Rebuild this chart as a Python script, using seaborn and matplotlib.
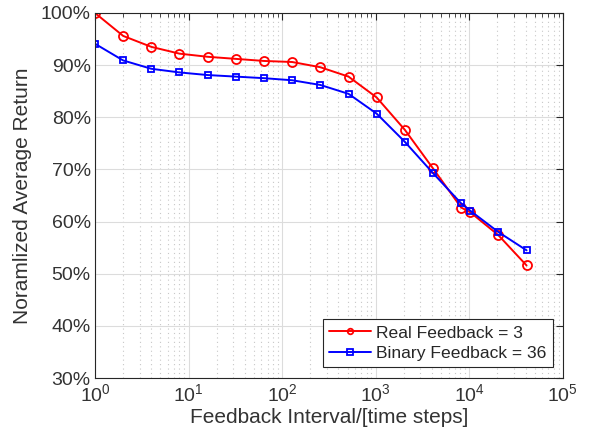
import numpy as np
import pandas as pd
import matplotlib
matplotlib.use("Agg")
import matplotlib.pyplot as plt
import seaborn as sns
from matplotlib.ticker import LogLocator, FuncFormatter, NullFormatter

# feedback interval in time steps
intervals = [1, 2, 4, 8, 16, 32, 64, 128, 256, 512, 1024, 2048, 4096, 8192, 10240, 20480, 40960]
# normalized average return (%)
real_fb = [100.0, 95.6, 93.5, 92.2, 91.6, 91.2, 90.8, 90.6, 89.6, 87.8, 83.8, 77.6, 70.2, 62.7, 61.8, 57.4, 51.6]
binary_fb = [94.1, 90.9, 89.3, 88.6, 88.1, 87.8, 87.5, 87.1, 86.2, 84.5, 80.7, 75.3, 69.3, 63.5, 62.1, 58.0, 54.5]
series_names = ["Real Feedback = 3", "Binary Feedback = 36"]

df = pd.DataFrame({
    "interval": intervals * 2,
    "ret": real_fb + binary_fb,
    "series": [series_names[0]] * len(intervals) + [series_names[1]] * len(intervals),
})

sns.set_style("white")
plt.rcParams["font.family"] = ["Liberation Sans", "DejaVu Sans"]
plt.rcParams["mathtext.fontset"] = "custom"
plt.rcParams["mathtext.rm"] = "Liberation Sans"
plt.rcParams["mathtext.default"] = "regular"

fig = plt.figure(figsize=(5.9, 4.47), dpi=100)
ax = fig.add_axes([0.161, 0.154, 0.793, 0.817])

sns.lineplot(data=df[df.series == series_names[0]], x="interval", y="ret", ax=ax,
             color="#ff0000", marker="o", markersize=6.5, markerfacecolor="none",
             markeredgecolor="#ff0000", markeredgewidth=1.3, linewidth=1.4,
             label=series_names[0])
sns.lineplot(data=df[df.series == series_names[1]], x="interval", y="ret", ax=ax,
             color="#0000ff", marker="s", markersize=4.3, markerfacecolor="none",
             markeredgecolor="#0000ff", markeredgewidth=1.3, linewidth=1.4,
             label=series_names[1])

ax.set_xscale("log")
ax.set_xlim(1, 1e5)
ax.set_ylim(30, 100)
ax.set_yticks(np.arange(30, 101, 10))
ax.yaxis.set_major_formatter(FuncFormatter(lambda v, p: f"{int(v)}%"))
ax.xaxis.set_major_locator(LogLocator(base=10, numticks=10))
ax.xaxis.set_major_formatter(FuncFormatter(lambda v, p: r"$10^{%d}$" % round(np.log10(v))))
ax.xaxis.set_minor_locator(LogLocator(base=10, subs=np.arange(2, 10), numticks=10))
ax.xaxis.set_minor_formatter(NullFormatter())

ax.grid(True, which="major", color="#dcdcdc", linewidth=0.8, linestyle="-")
ax.grid(True, which="minor", axis="x", color="#c8c8c8", linewidth=0.8, linestyle=(0, (1, 3)))
ax.set_axisbelow(True)

for s in ax.spines.values():
    s.set_visible(True)
    s.set_color("#262626")
    s.set_linewidth(0.8)
ax.tick_params(which="both", direction="in", top=True, right=True, colors="#262626",
               labelsize=14, labelcolor="#333333")
ax.tick_params(which="major", length=5)
ax.tick_params(which="minor", length=3)
ax.tick_params(axis="y", pad=3)

ax.set_xlabel("Feedback Interval/[time steps]", fontsize=15, color="#333333", labelpad=2)
ax.set_ylabel("Noramlized Average Return", fontsize=15, color="#333333", labelpad=6)

leg = ax.legend(loc="lower right", frameon=True, fancybox=False, edgecolor="#262626",
                fontsize=12.6, bbox_to_anchor=(0.978, 0.03), borderaxespad=0.0,
                handlelength=2.4, borderpad=0.35, labelspacing=0.3, handletextpad=0.3)
leg.get_frame().set_linewidth(0.8)
leg.get_frame().set_alpha(1)
for h in leg.get_lines():
    h.set_markersize(4)

fig.savefig("out.png", dpi=100)
